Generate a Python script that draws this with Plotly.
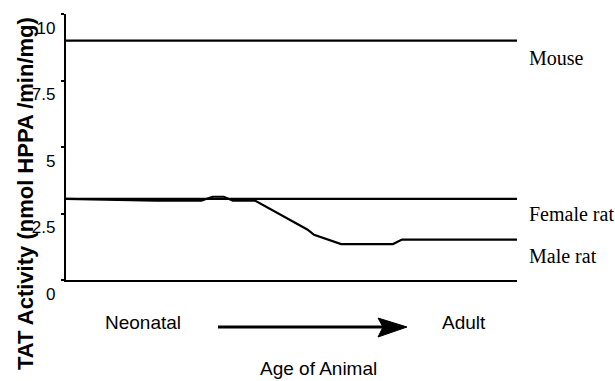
import plotly.graph_objects as go

# ---- data ----
age_mouse = [0, 10]
tat_mouse = [9.0, 9.0]

age_female = [0, 10]
tat_female = [3.05, 3.05]

age_male = [0, 2.0, 3.0, 3.25, 3.5, 3.7, 4.2, 5.35, 5.5, 6.1, 7.25, 7.45, 10]
tat_male = [3.05, 2.98, 2.98, 3.13, 3.13, 2.98, 2.98, 1.9, 1.7, 1.35, 1.35, 1.52, 1.52]

series_names = ["Mouse", "Female rat", "Male rat"]
y_ticks = [0, 2.5, 5, 7.5, 10]
y_ticklabels = ["0", "2.5", "5", "7.5", "10"]
x_labels = ["Neonatal", "Adult"]
x_title = "Age of Animal"
y_title = "TAT Activity (nmol HPPA /min/mg)"

# ---- layout geometry (pixels) ----
W, H = 615, 381
L, R, T, B = 66, 517, 14, 280


def px(xp):
    return (xp - L) / (R - L)


def py(yp):
    return (B - yp) / (B - T)


fig = go.Figure()
line_style = dict(color="black", width=2.2)
fig.add_trace(go.Scatter(x=age_mouse, y=tat_mouse, mode="lines", line=line_style,
                         name=series_names[0], showlegend=False))
fig.add_trace(go.Scatter(x=age_female, y=tat_female, mode="lines", line=line_style,
                         name=series_names[1], showlegend=False))
fig.add_trace(go.Scatter(x=age_male, y=tat_male, mode="lines", line=line_style,
                         name=series_names[2], showlegend=False))

serif = "Liberation Serif, Times New Roman, serif"
sans = "Liberation Sans, Arial, sans-serif"

annotations = []
# series labels on the right
for name, yv in zip(series_names, [58, 214, 256]):
    annotations.append(dict(text=name, xref="paper", yref="paper", x=px(527), y=py(yv),
                            xanchor="left", yanchor="middle", showarrow=False,
                            font=dict(family=serif, size=20, color="black")))
# x labels
annotations.append(dict(text=x_labels[0], xref="paper", yref="paper", x=px(143), y=py(322),
                        xanchor="center", yanchor="middle", showarrow=False,
                        font=dict(family=sans, size=19, color="black")))
annotations.append(dict(text=x_labels[1], xref="paper", yref="paper", x=px(464), y=py(322),
                        xanchor="center", yanchor="middle", showarrow=False,
                        font=dict(family=sans, size=19, color="black")))
annotations.append(dict(text=x_title, xref="paper", yref="paper", x=px(318), y=py(368),
                        xanchor="center", yanchor="middle", showarrow=False,
                        font=dict(family=sans, size=19, color="black")))
# y title
annotations.append(dict(text=y_title, xref="paper", yref="paper", x=px(25), y=py(194),
                        xanchor="center", yanchor="middle", showarrow=False, textangle=-90,
                        font=dict(family=sans, size=22, color="black", weight="bold")))

# arrow (line + head)
shapes = [
    dict(type="line", xref="paper", yref="paper", x0=px(218), x1=px(385), y0=py(327), y1=py(327),
         line=dict(color="black", width=3)),
    dict(type="path", xref="paper", yref="paper",
         path=f"M {px(378)},{py(318)} L {px(407)},{py(327)} L {px(378)},{py(337)} L {px(383)},{py(327)} Z",
         fillcolor="black", line=dict(color="black", width=1)),
]

fig.update_layout(
    width=W, height=H,
    margin=dict(l=L, r=W - R, t=T, b=H - B, autoexpand=False),
    plot_bgcolor="white", paper_bgcolor="white",
    annotations=annotations, shapes=shapes,
    xaxis=dict(range=[0, 10], showgrid=False, zeroline=False, showticklabels=False,
               ticks="", showline=True, linecolor="black", linewidth=2.2),
    yaxis=dict(range=[0, 10], showgrid=False, zeroline=False, tickvals=y_ticks,
               ticktext=y_ticklabels, ticks="outside", ticklen=3, tickwidth=2,
               tickcolor="black", showline=True, linecolor="black", linewidth=2.2,
               ticklabelshift=14, ticklabelstandoff=2,
               tickfont=dict(family=sans, size=17, color="black")),
)

fig.write_html("out.html", config={"displayModeBar": False},
               post_script="document.body.style.margin='0';document.body.style.overflow='hidden';")
